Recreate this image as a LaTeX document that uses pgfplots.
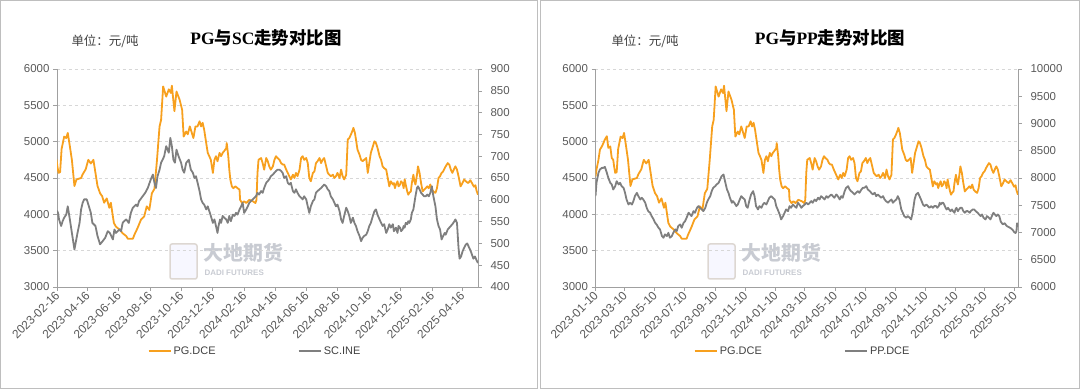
\documentclass[border=0pt]{standalone}
\usepackage{pgfplots}
\usepackage{pgfplotstable}
\pgfplotsset{compat=1.18}
\usepackage{fontspec}
\setmainfont{Liberation Sans}
\newfontfamily\cjk{Noto Sans CJK SC}
\newfontfamily\titlerm{Liberation Serif}
\definecolor{pgorange}{RGB}{247,160,30}
\definecolor{scgray}{RGB}{127,127,127}
\definecolor{axisgray}{RGB}{160,160,160}
\definecolor{gridgray}{RGB}{215,215,215}
\definecolor{ticktext}{RGB}{89,89,89}
\definecolor{legtext}{RGB}{64,64,64}
\definecolor{panelgray}{RGB}{190,190,190}
\definecolor{wmgray}{RGB}{200,203,210}

\pgfplotstableread{
d v
9 4520
11 4615
15 4750
18 4890
22 4935
25 4980
28 5030
32 5075
35 4915
39 4935
42 4775
45 4750
47 4650
49 4570
52 4580
55 4900
60 5070
64 5050
67 5120
71 4940
75 4750
80 4390
84 4480
93 4500
96 4550
102 4620
107 4750
112 4700
117 4750
121 4570
125 4390
130 4290
134 4250
138 4160
143 4220
148 4090
151 4160
155 3970
157 3880
161 3830
168 3790
174 3740
181 3700
184 3665
194 3665
197 3720
203 3810
210 3930
216 3970
221 4110
226 4060
231 4290
236 4350
241 4750
246 5210
249 5300
253 5760
259 5620
264 5720
268 5670
270 5770
275 5420
279 5690
285 5580
290 5440
293 5070
298 5140
301 5100
305 5210
309 5120
312 5050
316 5210
320 5210
324 5280
327 5210
330 5260
333 5165
337 4980
340 4845
343 4800
346 4750
350 4570
353 4750
356 4800
359 4730
363 4845
366 4800
369 4845
372 4870
376 4910
377 4980
380 4800
382 4615
384 4480
387 4385
390 4360
394 4385
398 4360
402 4340
403 4200
407 4155
411 4180
415 4155
421 4200
428 4180
433 4155
435 4200
437 4570
439 4750
444 4775
447 4705
450 4615
454 4775
457 4730
460 4660
463 4615
467 4660
470 4750
473 4800
476 4775
480 4750
483 4705
486 4685
489 4685
493 4615
496 4570
499 4525
502 4480
506 4545
509 4500
512 4570
515 4525
519 4615
522 4775
525 4800
528 4750
532 4775
535 4705
538 4500
541 4455
545 4570
548 4590
551 4705
554 4730
558 4775
561 4705
564 4750
567 4775
571 4660
574 4570
577 4545
580 4525
584 4545
587 4500
590 4525
593 4570
597 4500
600 4615
603 4525
606 4480
610 4545
613 5030
616 5050
619 5095
623 5165
624 5190
627 5120
629 5030
632 4890
636 4820
639 4750
642 4730
645 4750
649 4775
652 4570
655 4705
658 4845
662 4935
665 5005
668 4980
671 4915
675 4800
678 4750
681 4660
684 4635
688 4615
691 4500
694 4385
697 4455
701 4410
703 4430
705 4360
707 4410
710 4455
712 4385
715 4410
717 4455
720 4430
722 4360
724 4480
726 4410
729 4315
731 4270
733 4295
736 4315
738 4430
741 4545
743 4455
745 4410
748 4545
750 4660
753 4570
756 4430
759 4315
762 4340
765 4360
768 4385
771 4360
774 4410
777 4340
780 4315
784 4295
787 4360
790 4500
793 4525
796 4570
799 4590
802 4635
804 4660
808 4705
811 4685
814 4615
817 4570
821 4635
823 4660
826 4615
829 4525
833 4385
836 4420
840 4480
844 4450
848 4430
852 4470
856 4420
859 4380
862 4400
864 4330
867 4270
}\pgtab

\pgfplotstableread{
d v
46 575
48 570
50 555
54 540
57 551
60 559
64 566
67 585
70 563
73 540
77 509
80 486
83 505
86 524
90 547
93 578
96 593
99 601
104 601
109 582
112 570
115 547
121 540
125 517
130 498
135 505
140 513
145 528
149 524
155 509
158 532
161 524
168 532
171 528
174 547
177 551
181 555
186 547
190 570
194 582
200 589
203 585
206 597
213 608
218 616
223 627
229 647
233 658
236 639
239 627
242 654
246 669
249 685
252 692
255 700
259 723
264 708
267 742
270 723
273 692
276 685
279 715
283 700
288 685
291 669
294 662
298 685
303 692
307 669
311 662
314 650
317 654
320 640
324 620
327 601
330 593
333 589
337 578
340 585
343 574
346 563
350 547
353 555
356 540
359 524
361 540
364 555
366 547
369 563
372 559
376 555
379 547
382 563
385 551
389 566
392 563
395 570
398 566
402 578
405 585
408 593
411 570
415 578
418 585
421 593
424 597
428 601
431 605
434 608
437 616
440 612
444 620
447 616
450 627
454 639
457 643
460 647
463 654
467 658
470 662
473 666
476 669
480 669
483 666
486 662
489 650
493 654
496 639
499 635
502 639
506 620
509 616
512 624
515 616
519 608
522 605
525 601
528 608
532 601
535 585
538 570
541 585
545 597
548 601
551 616
554 620
558 624
561 627
564 631
567 635
571 631
574 624
577 620
580 608
584 601
587 593
590 585
593 589
597 574
600 555
603 547
606 563
610 582
613 574
616 563
619 547
623 559
626 547
629 540
632 528
636 517
639 505
642 513
645 517
649 520
652 528
655 540
658 547
662 563
665 574
668 578
671 566
675 555
678 547
681 540
684 544
688 524
691 532
694 544
697 536
701 544
703 528
705 532
707 536
710 524
712 540
715 536
717 528
720 532
722 540
724 536
726 547
729 544
731 551
733 547
736 555
738 570
741 578
743 593
745 608
748 627
750 631
753 624
756 616
759 612
762 608
765 608
768 612
771 608
774 616
777 631
780 608
784 585
787 555
790 540
793 532
796 509
799 517
802 524
804 520
808 532
811 536
814 540
817 544
821 551
823 555
826 547
829 490
831 465
834 470
837 482
840 490
843 497
846 500
849 492
852 485
855 475
858 465
861 470
864 462
867 455
}\sctab

\pgfplotstableread{
d v
9 7667
11 7911
15 8095
18 8156
22 8186
25 8186
28 8204
32 8095
35 8003
39 7911
42 7881
45 7789
49 7850
52 7942
56 7881
59 7911
62 7850
66 7820
69 7728
72 7606
76 7514
79 7545
83 7514
86 7576
89 7667
93 7728
96 7667
100 7606
103 7637
106 7606
110 7545
113 7453
116 7392
120 7362
123 7301
127 7240
130 7179
133 7148
137 7087
140 7057
144 6934
147 6904
150 6965
154 6934
157 6995
160 6904
164 6934
167 6995
171 7057
174 7026
177 7118
181 7148
184 7087
188 7179
191 7209
194 7270
198 7362
201 7331
204 7301
208 7392
211 7362
215 7453
218 7484
221 7453
225 7423
228 7392
232 7453
235 7545
238 7606
242 7667
245 7759
248 7820
252 7850
255 7881
259 7911
262 7972
265 8033
269 8064
272 7942
276 7789
279 7728
282 7637
286 7545
288 7576
291 7545
295 7484
298 7514
302 7606
305 7667
308 7637
312 7606
315 7484
318 7453
322 7606
325 7698
329 7759
332 7667
335 7484
339 7423
342 7484
346 7453
349 7514
352 7545
356 7514
359 7576
362 7637
366 7667
369 7637
373 7606
376 7484
379 7423
383 7331
386 7240
390 7301
393 7362
396 7423
400 7392
403 7484
406 7453
410 7514
413 7484
417 7453
420 7545
423 7514
427 7453
430 7484
434 7514
437 7545
441 7514
444 7545
447 7576
450 7545
454 7606
457 7576
461 7637
464 7606
467 7667
471 7637
474 7606
478 7667
481 7637
484 7667
488 7698
491 7667
494 7637
498 7698
501 7667
505 7606
508 7667
511 7637
515 7759
518 7820
522 7850
525 7789
528 7759
532 7728
535 7698
538 7728
542 7759
545 7728
549 7789
552 7820
555 7820
559 7850
562 7789
566 7759
569 7728
572 7698
576 7728
579 7667
582 7698
586 7667
589 7637
593 7667
596 7606
599 7576
603 7545
606 7576
610 7606
613 7545
616 7576
620 7606
623 7667
626 7606
630 7423
633 7362
636 7301
640 7270
643 7301
647 7270
650 7240
653 7362
657 7606
660 7698
664 7728
667 7667
670 7606
674 7514
677 7484
681 7514
684 7484
687 7453
691 7484
694 7453
697 7484
701 7484
703 7453
706 7484
708 7545
710 7514
713 7545
715 7545
717 7514
720 7453
722 7423
725 7453
727 7423
730 7392
733 7423
735 7392
738 7362
740 7423
742 7453
745 7392
747 7423
750 7453
753 7453
756 7392
759 7362
762 7392
765 7392
769 7362
771 7392
775 7423
778 7423
781 7392
785 7362
788 7331
791 7301
794 7331
797 7270
801 7240
804 7301
808 7270
811 7240
814 7301
817 7362
820 7331
823 7301
826 7331
829 7301
832 7200
836 7150
840 7170
844 7120
848 7100
852 7080
856 7050
859 7010
862 6990
864 7030
865 7170
867 7100
}\pptab

\pgfplotsset{
  base/.style={
    scale only axis, height=218bp, clip=true, xmax=867,
    axis line style={draw=axisgray,-},
    every outer x axis line/.append style={-},
    every outer y axis line/.append style={-},
    tick style={draw=axisgray, line width=0.6bp},
    major tick length=4bp, tick align=outside,
    ticklabel style={font=\fontsize{11.5}{13}\selectfont, text=ticktext},
    /pgf/number format/assume math mode=true,
    /pgf/number format/1000 sep={},
    scaled y ticks=false,
  },
  pg/.style={color=pgorange, line width=1.8bp, line join=round},
  sc/.style={color=scgray, line width=1.8bp, line join=round},
  leg/.style={
    legend columns=2,
    legend style={draw=none, fill=none, font=\fontsize{11}{13}\selectfont, text=legtext,
      /tikz/every even column/.append style={column sep=80bp}},
    legend image code/.code={\draw[##1, line width=2.2bp] (0bp,0bp) -- (22bp,0bp);},
  },
  xlab/.style={xticklabel style={rotate=45, anchor=east, xshift=2bp, yshift=-2bp, font=\fontsize{12}{14}\selectfont}},
}

\begin{document}
\begin{tikzpicture}
\useasboundingbox (0bp,0bp) rectangle (1080bp,390bp);
% panel frames
\draw[panelgray, line width=0.8bp] (0.6bp,1.5bp) rectangle (537.4bp,389.4bp);
\draw[panelgray, line width=0.8bp] (540.6bp,1.5bp) rectangle (1079.4bp,389.4bp);

% titles
\node[font=\fontsize{17.5}{20}\selectfont] at (266bp,352bp)
  {{\titlerm\bfseries PG}{\cjk\bfseries 与}{\titlerm\bfseries SC}{\cjk\bfseries 走势对比图}};
\node[font=\fontsize{12.5}{14}\selectfont\cjk, text=legtext, anchor=west] at (68bp,349bp) {单位：元/吨};
\node[font=\fontsize{17.5}{20}\selectfont] at (830bp,352bp)
  {{\titlerm\bfseries PG}{\cjk\bfseries 与}{\titlerm\bfseries PP}{\cjk\bfseries 走势对比图}};
\node[font=\fontsize{12.5}{14}\selectfont\cjk, text=legtext, anchor=west] at (608bp,349bp) {单位：元/吨};

% watermarks
\foreach \cx in {170,708}{
  \draw[rounded corners=2bp, draw=wmgray!80!brown!60, line width=1.5bp, fill=blue!3]
    (\cx bp,111bp) rectangle ++(27bp,35bp);
  \node[font=\fontsize{20}{22}\selectfont\cjk\bfseries, text=wmgray, anchor=west] at (\cx bp+30bp,137bp) {大地期货};
  \node[font=\fontsize{8}{9}\selectfont\bfseries, text=wmgray, anchor=west] at (\cx bp+31bp,117bp) {DADI FUTURES};
}

% ===== Left panel =====
\begin{axis}[base, xlab, width=421bp, at={(57bp,103bp)}, anchor=south west,
  xmin=46,
  axis y line*=left, axis x line*=bottom,
  ymin=3000, ymax=6000, ytick={3000,3500,...,6000},
  ymajorgrids, grid style={dashed, gridgray, line width=0.6bp},
  xtick={46,105,166,227,288,349,411,471,532,593,654,715,777,836},
  xticklabels={2023-02-16,2023-04-16,2023-06-16,2023-08-16,2023-10-16,2023-12-16,2024-02-16,2024-04-16,2024-06-16,2024-08-16,2024-10-16,2024-12-16,2025-02-16,2025-04-16},
]
\addplot[pg] table[x=d,y=v] {\pgtab};
\end{axis}
\begin{axis}[base, leg, width=421bp, at={(57bp,103bp)}, anchor=south west,
  xmin=46,
  axis y line*=right, axis x line=none,
  ymin=400, ymax=900, ytick={400,450,...,900},
  yticklabel style={xshift=5bp},
  legend style={at={(0.47,-0.294)}, anchor=center},
]
\addlegendimage{pg}\addlegendentry{PG.DCE}
\addplot[sc] table[x=d,y=v] {\sctab};
\addlegendentry{SC.INE}
\end{axis}

% ===== Right panel =====
\begin{axis}[base, xlab, width=422.5bp, at={(595.5bp,103bp)}, anchor=south west,
  xmin=9,
  axis y line*=left, axis x line*=bottom,
  ymin=3000, ymax=6000, ytick={3000,3500,...,6000},
  ymajorgrids, grid style={dashed, gridgray, line width=0.6bp},
  xtick={9,68,129,190,252,313,374,434,495,556,618,679,740,799,860},
  xticklabels={2023-01-10,2023-03-10,2023-05-10,2023-07-10,2023-09-10,2023-11-10,2024-01-10,2024-03-10,2024-05-10,2024-07-10,2024-09-10,2024-11-10,2025-01-10,2025-03-10,2025-05-10},
]
\addplot[pg] table[x=d,y=v] {\pgtab};
\end{axis}
\begin{axis}[base, leg, width=422.5bp, at={(595.5bp,103bp)}, anchor=south west,
  xmin=9,
  axis y line*=right, axis x line=none,
  ymin=6000, ymax=10000, ytick={6000,6500,...,10000},
  yticklabel style={xshift=5bp},
  legend style={at={(0.49,-0.294)}, anchor=center},
]
\addlegendimage{pg}\addlegendentry{PG.DCE}
\addplot[sc] table[x=d,y=v] {\pptab};
\addlegendentry{PP.DCE}
\end{axis}
\end{tikzpicture}
\end{document}
